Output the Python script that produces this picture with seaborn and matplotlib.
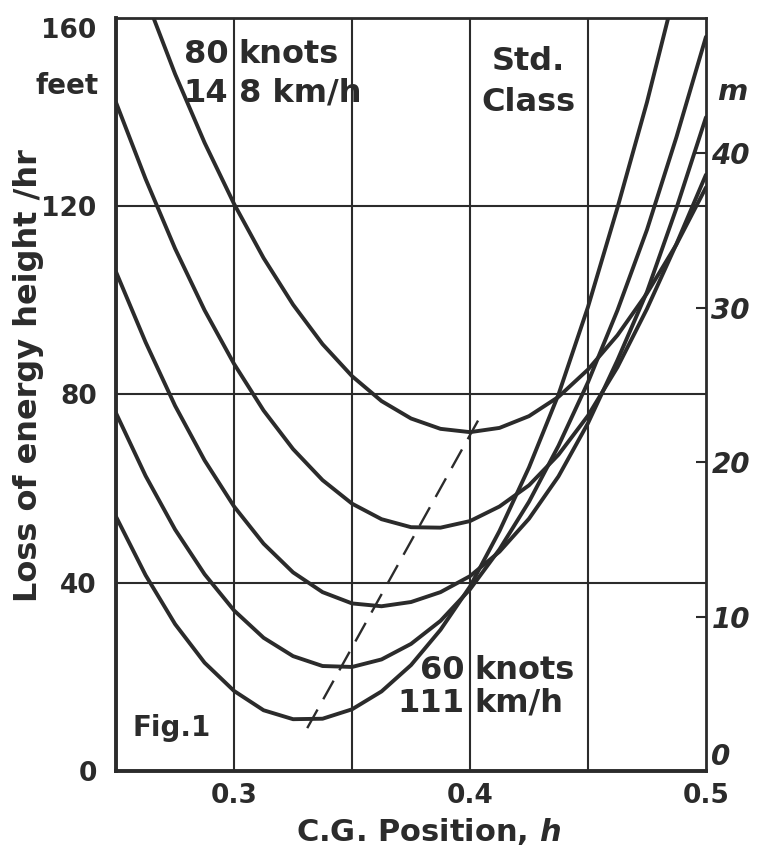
import matplotlib
matplotlib.use("Agg")
import matplotlib.pyplot as plt
import seaborn as sns
import pandas as pd

# 数据：五条曲线，单位 feet
h_full = [0.25, 0.2625, 0.275, 0.2875, 0.3, 0.3125, 0.325, 0.3375, 0.35, 0.3625, 0.375,
          0.3875, 0.4, 0.4125, 0.425, 0.4375, 0.45, 0.4625, 0.475, 0.4875, 0.5]
h_a = h_full[1:]
loss_a = [164.4, 148.1, 133.5, 120.5, 109.0, 99.1, 90.7, 83.9, 78.6, 74.9, 72.7, 72.0,
          72.9, 75.4, 79.5, 85.3, 92.6, 101.5, 111.9, 124.0]
loss_b = [142.0, 125.8, 111.0, 97.9, 86.5, 76.6, 68.4, 61.8, 56.8, 53.5, 51.8, 51.7,
          53.1, 56.2, 60.7, 67.2, 75.5, 85.8, 98.2, 112.0, 126.7]
loss_c = [106.0, 91.1, 77.6, 66.0, 56.2, 48.3, 42.2, 38.0, 35.6, 35.0, 35.9, 38.0,
          41.4, 46.6, 53.6, 62.6, 73.9, 87.3, 101.8, 119.6, 138.9]
loss_d = [76.0, 62.7, 51.3, 41.8, 34.1, 28.3, 24.4, 22.3, 22.1, 23.7, 27.0, 31.9,
          38.6, 47.1, 57.2, 69.1, 82.6, 97.9, 115.0, 134.7, 156.0]
h_e = h_full[:-1]
loss_e = [54.0, 41.6, 31.2, 23.0, 17.0, 12.9, 11.0, 11.1, 13.1, 16.9, 22.5, 30.0,
          39.2, 51.0, 64.5, 80.0, 98.6, 119.7, 142.1, 167.0]

# 最小值连线（虚线）
h_min = [0.331, 0.404]
loss_min = [9.1, 75.0]

x_ticks = [0.3, 0.4, 0.5]
x_grid = [0.3, 0.35, 0.4, 0.45]
y_ticks = [0, 40, 80, 120, 160]
m_ticks = [0, 10, 20, 30, 40]

INK = '#2b2b2b'

sns.set_style('white')
plt.rcParams['font.family'] = ['DejaVu Sans']
plt.rcParams['font.weight'] = 'bold'
plt.rcParams['text.color'] = INK
plt.rcParams['axes.labelcolor'] = INK
plt.rcParams['xtick.color'] = INK
plt.rcParams['ytick.color'] = INK
plt.rcParams['axes.labelweight'] = 'bold'

fig = plt.figure(figsize=(7.69, 8.59), dpi=100)
ax = fig.add_axes([0.151, 0.1025, 0.767, 0.8765])

frames = []
for name, hs, ls in [('A', h_a, loss_a), ('B', h_full, loss_b), ('C', h_full, loss_c),
                     ('D', h_full, loss_d), ('E', h_e, loss_e)]:
    frames.append(pd.DataFrame({'h': hs, 'loss': ls, 'curve': name}))
df = pd.concat(frames, ignore_index=True)

sns.lineplot(data=df, x='h', y='loss', hue='curve', palette=[INK] * 5, legend=False,
             sort=False, estimator=None, linewidth=2.8, ax=ax, zorder=3)
sns.lineplot(x=h_min, y=loss_min, color=INK, linewidth=1.7, linestyle=(0, (9, 5)),
             ax=ax, zorder=3)

ax.set_xlim(0.25, 0.5)
ax.set_ylim(0, 160)

# 网格线
for gx in x_grid:
    ax.axvline(gx, color=INK, linewidth=1.5, zorder=1)
for gy in [40, 80, 120]:
    ax.axhline(gy, color=INK, linewidth=1.5, zorder=1)

ax.set_xticks(x_ticks)
ax.set_xticklabels(['0.3', '0.4', '0.5'])
ax.set_yticks(y_ticks)
ax.set_yticklabels([str(v) for v in y_ticks])
ax.tick_params(axis='both', length=0, labelsize=19)
ax.tick_params(axis='x', pad=9)
ax.tick_params(axis='y', pad=14)
ax.get_yticklabels()[-1].set_va('top')

for side, sp in ax.spines.items():
    sp.set_color(INK)
    sp.set_linewidth(2.8 if side in ('left', 'bottom') else 2.0)

ax.set_xlabel(r'C.G. Position, $\mathbfit{h}$', fontsize=22)
ax.xaxis.set_label_coords(0.529, -0.06)
ax.set_ylabel('Loss of energy height /hr', fontsize=23)
ax.yaxis.set_label_coords(-0.122, 0.525)

# 右侧米制刻度
ax2 = ax.twinx()
ax2.set_ylim(0, 160 * 0.3048)
ax2.set_yticks(m_ticks)
ax2.set_yticklabels(['0', '10', '20', '30', '40'], fontstyle='italic')
ax2.tick_params(axis='y', direction='in', length=7, width=1.5, labelsize=20, pad=4)
ax2.get_yticklabels()[0].set_va('bottom')
for sp in ax2.spines.values():
    sp.set_visible(False)
ax2.grid(False)

ax.text(1.044, 0.902, 'm', transform=ax.transAxes, fontsize=21, fontstyle='italic',
        ha='center', va='center')
ax.text(-0.03, 0.91, 'feet', transform=ax.transAxes, fontsize=20, ha='right', va='center')

# 注释文字
ax.text(0.2975, 152.3, '80', fontsize=23, ha='right', va='center')
ax.text(0.302, 152.3, 'knots', fontsize=23, ha='left', va='center')
ax.text(0.2975, 144.0, '14', fontsize=23, ha='right', va='center')
ax.text(0.302, 144.0, '8 km/h', fontsize=23, ha='left', va='center')
ax.text(0.4246, 150.7, 'Std.', fontsize=23, ha='center', va='center')
ax.text(0.4246, 142.0, 'Class', fontsize=23, ha='center', va='center')
ax.text(0.3975, 21.4, '60', fontsize=23, ha='right', va='center')
ax.text(0.402, 21.4, 'knots', fontsize=23, ha='left', va='center')
ax.text(0.3975, 14.4, '111', fontsize=23, ha='right', va='center')
ax.text(0.402, 14.4, 'km/h', fontsize=23, ha='left', va='center')
ax.text(0.257, 9.1, 'Fig.1', fontsize=20, ha='left', va='center')

fig.savefig('out.png', dpi=100, facecolor='white')
plt.close(fig)
